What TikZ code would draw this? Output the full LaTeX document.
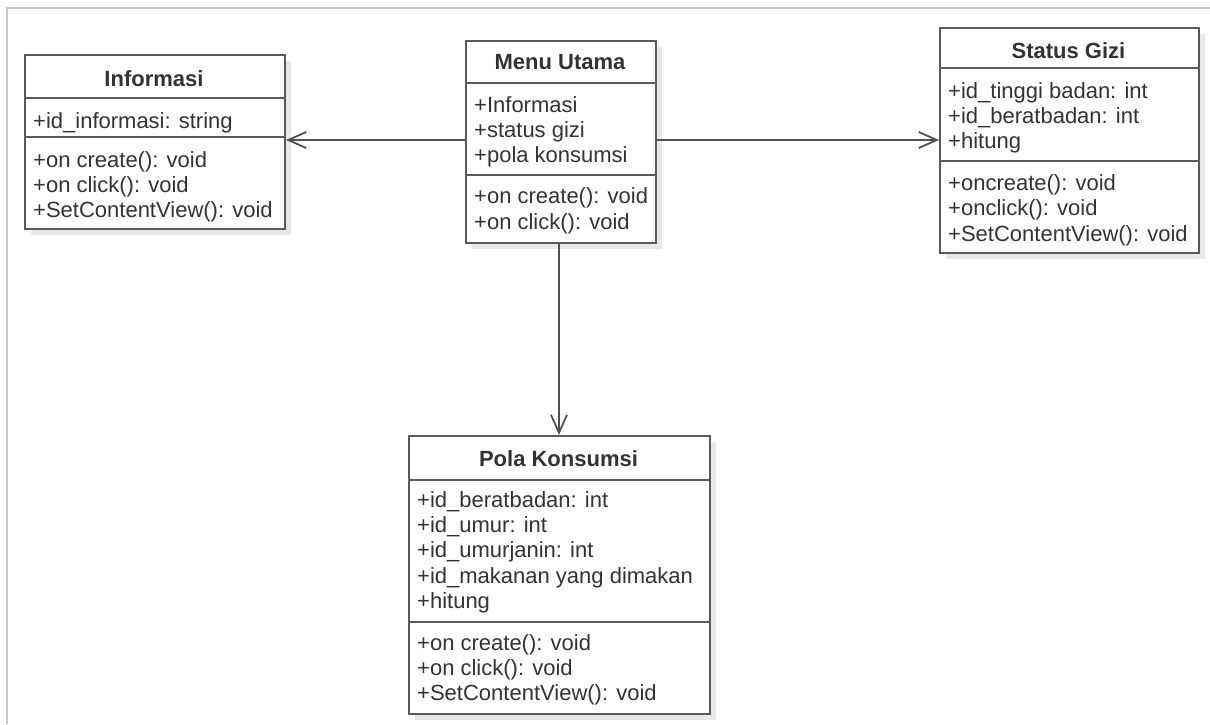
\documentclass[tikz,border=0pt]{standalone}
\usepackage{fontspec}
\setmainfont{Liberation Sans}
\usetikzlibrary{arrows.meta,shadows}
\definecolor{boxline}{HTML}{5A5A5A}
\definecolor{txtcol}{HTML}{333333}
\definecolor{framecol}{HTML}{C8C8C8}
\definecolor{conncol}{HTML}{505050}
\begin{document}
\begin{tikzpicture}[x=1pt,y=-1pt,
  frameline/.style={draw=framecol,line width=2pt},
  classbox/.style={draw=boxline,line width=2pt,fill=white,rectangle,anchor=north west,inner sep=0pt,
    drop shadow={shadow xshift=6pt,shadow yshift=-6pt,fill=black!9,opacity=1}},
  divider/.style={draw=boxline,line width=2pt},
  conn/.style={draw=conncol,line width=1.8pt,-{Straight Barb[length=18pt,width=16pt,line width=1.8pt]}},
  txt/.style={anchor=base west,inner sep=0pt,text=txtcol,font=\fontsize{22}{25}\selectfont},
  ttl/.style={anchor=base,inner sep=0pt,text=txtcol,font=\fontsize{22}{25}\selectfont\bfseries}]
\useasboundingbox (0,0) rectangle (1210,724);
\draw[frameline] (7,724) -- (7,8) -- (1210,8);

% Informasi
\node[classbox,minimum width=260pt,minimum height=174pt] (info) at (24,54) {};
\draw[divider] (24,98) -- (284,98);
\draw[divider] (24,137) -- (284,137);
\node[ttl] (infot) at (154,86) {Informasi};
\node[txt] (infoa1) at (33,128) {+id\_informasi: string};
\node[txt] (infom1) at (33,167) {+on create(): void};
\node[txt] (infom2) at (33,192) {+on click(): void};
\node[txt] (infom3) at (33,217) {+SetContentView(): void};

% Menu Utama
\node[classbox,minimum width=190pt,minimum height=202pt] (menu) at (465,40) {};
\draw[divider] (465,83) -- (655,83);
\draw[divider] (465,175) -- (655,175);
\node[ttl] (menut) at (560,69) {Menu Utama};
\node[txt] (menua1) at (474,112) {+Informasi};
\node[txt] (menua2) at (474,137) {+status gizi};
\node[txt] (menua3) at (474,162) {+pola konsumsi};
\node[txt] (menum1) at (474,203) {+on create(): void};
\node[txt] (menum2) at (474,229) {+on click(): void};

% Status Gizi
\node[classbox,minimum width=259pt,minimum height=225pt] (status) at (939,27) {};
\draw[divider] (939,68) -- (1198,68);
\draw[divider] (939,161) -- (1198,161);
\node[ttl] (statust) at (1068.5,58) {Status Gizi};
\node[txt] (statusa1) at (948,98) {+id\_tinggi badan: int};
\node[txt] (statusa2) at (948,123) {+id\_beratbadan: int};
\node[txt] (statusa3) at (948,148) {+hitung};
\node[txt] (statusm1) at (948,190) {+oncreate(): void};
\node[txt] (statusm2) at (948,215) {+onclick(): void};
\node[txt] (statusm3) at (948,241) {+SetContentView(): void};

% Pola Konsumsi
\node[classbox,minimum width=301pt,minimum height=278pt] (pola) at (408,435) {};
\draw[divider] (408,480) -- (709,480);
\draw[divider] (408,622) -- (709,622);
\node[ttl] (polat) at (558.5,466) {Pola Konsumsi};
\node[txt] (polaa1) at (417,507) {+id\_beratbadan: int};
\node[txt] (polaa2) at (417,532) {+id\_umur: int};
\node[txt] (polaa3) at (417,557) {+id\_umurjanin: int};
\node[txt] (polaa4) at (417,583) {+id\_makanan yang dimakan};
\node[txt] (polaa5) at (417,608) {+hitung};
\node[txt] (polam1) at (417,650) {+on create(): void};
\node[txt] (polam2) at (417,675) {+on click(): void};
\node[txt] (polam3) at (417,700) {+SetContentView(): void};

% connectors
\coordinate (ylev) at (0,140);
\draw[conn] (menu.west |- ylev) -- (info.east |- ylev);
\draw[conn] (menu.east |- ylev) -- (status.west |- ylev);
\draw[conn] (menu.south -| 559,0) -- (559,435);
\end{tikzpicture}
\end{document}
